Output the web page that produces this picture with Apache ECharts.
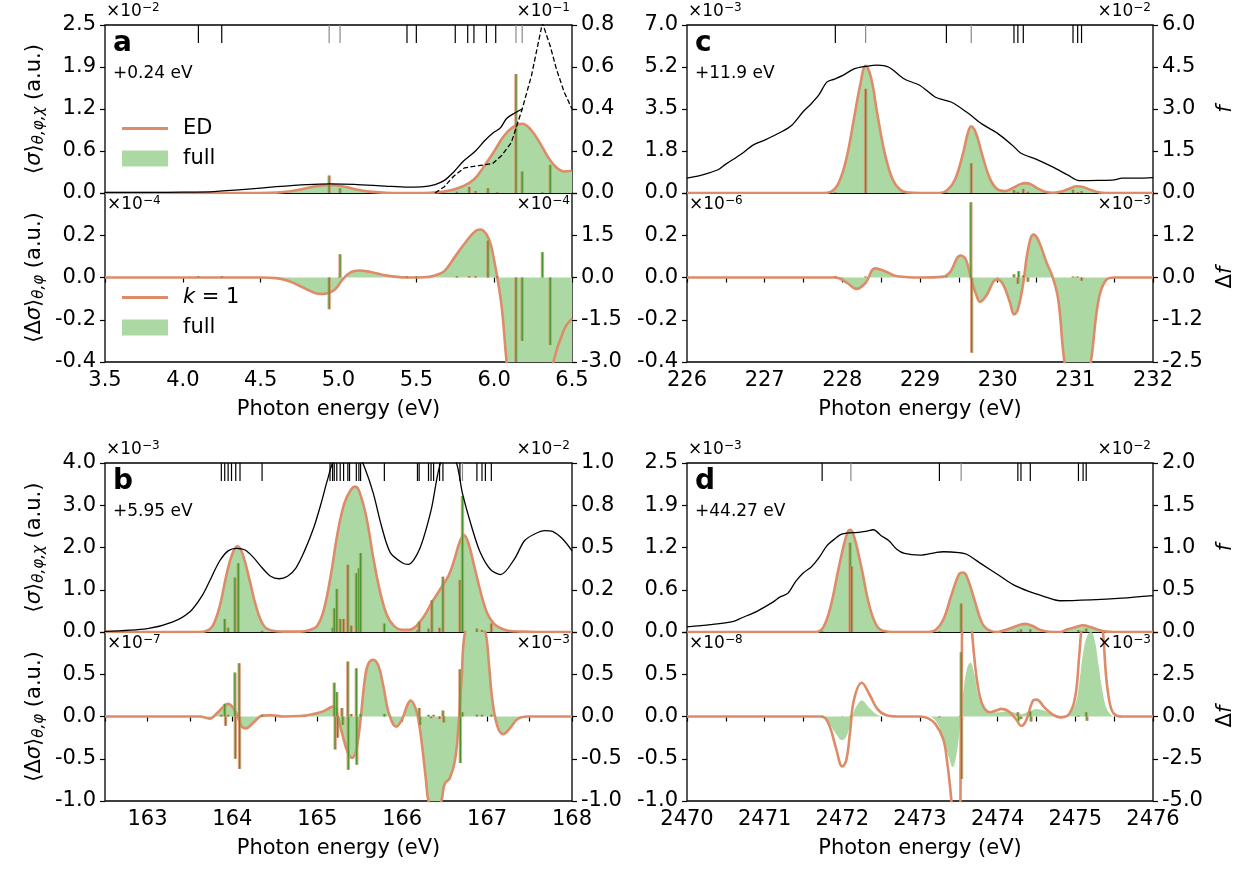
<!DOCTYPE html>
<html>
<head>
<meta charset="utf-8">
<script src="https://cdn.jsdelivr.net/npm/echarts@6/dist/echarts.min.js"></script>
<style>
html, body { margin: 0; padding: 0; background: #fff; }
#chart { width: 1245px; height: 871px; }
</style>
</head>
<body>
<div id="chart"></div>
<script>
// ---------- panel a : 3.5 - 6.5 eV ----------
var aBlack = [[3.5,0.003],[3.8,0.003],[4.0,0.004],[4.2,0.007],[4.4,0.017],[4.6,0.03],[4.8,0.04],[4.95,0.043],[5.1,0.041],[5.3,0.033],[5.45,0.028],[5.55,0.03],[5.62,0.04],[5.68,0.06],[5.74,0.1],[5.8,0.15],[5.88,0.2],[5.94,0.25],[5.99,0.285],[6.04,0.31],[6.08,0.355],[6.13,0.38],[6.18,0.40]];
var aBlackDash = [[5.62,0],[5.68,0.03],[5.74,0.08],[5.81,0.12],[5.9,0.13],[5.99,0.14],[6.05,0.18],[6.11,0.24],[6.18,0.40],[6.24,0.56],[6.31,0.81],[6.36,0.7],[6.4,0.59],[6.45,0.48],[6.5,0.40]];
var aED = [[3.5,0],[4.5,0],[4.6,0.005],[4.7,0.03],[4.8,0.075],[4.88,0.11],[4.95,0.12],[5.02,0.105],[5.1,0.06],[5.2,0.02],[5.3,0.004],[5.4,0],[5.55,0],[5.65,0.015],[5.72,0.04],[5.8,0.1],[5.87,0.2],[5.93,0.38],[6.0,0.62],[6.06,0.84],[6.12,0.98],[6.18,1.03],[6.24,0.93],[6.3,0.72],[6.35,0.52],[6.4,0.38],[6.45,0.32],[6.5,0.33]];
var aSticks = [[4.94,0.26],[5.01,0.07],[5.76,0.02],[5.84,0.09],[5.88,0.03],[5.96,0.07],[6.02,0.01],[6.14,1.77],[6.18,0.32],[6.31,0.01],[6.36,0.42]];
var aLevels = [4.10,4.25,5.44,5.50,5.75,5.83,5.87,5.95,6.01];
var aLevelsGray = [4.94,5.01,6.14,6.18];
var aK1 = [[3.5,0],[4.5,0],[4.6,-0.003],[4.68,-0.017],[4.78,-0.05],[4.85,-0.074],[4.89,-0.078],[4.94,-0.072],[4.98,-0.055],[5.03,-0.006],[5.08,0.025],[5.13,0.033],[5.2,0.027],[5.28,0.013],[5.36,0.004],[5.45,0],[5.55,0.001],[5.62,0.01],[5.68,0.03],[5.75,0.1],[5.83,0.18],[5.88,0.22],[5.91,0.227],[5.95,0.205],[5.98,0.15],[6.0,0.08],[6.02,0.0],[6.05,-0.15],[6.08,-0.4],[6.12,-0.65],[6.2,-0.9],[6.3,-0.7],[6.38,-0.4],[6.45,-0.245],[6.5,-0.195]];
var aFullDiff = [[3.5,0],[4.5,0],[4.6,-0.003],[4.68,-0.017],[4.78,-0.05],[4.85,-0.074],[4.89,-0.078],[4.94,-0.072],[4.98,-0.055],[5.03,-0.006],[5.08,0.025],[5.13,0.033],[5.2,0.027],[5.28,0.013],[5.36,0.004],[5.45,0],[5.55,0.001],[5.62,0.01],[5.68,0.03],[5.75,0.1],[5.83,0.18],[5.88,0.22],[5.91,0.227],[5.95,0.205],[5.98,0.15],[6.0,0.08],[6.02,0.0],[6.05,-0.15],[6.08,-0.45],[6.15,-0.9],[6.3,-1.0],[6.5,-0.8]];
var aSticksDiff = [[4.10,0.006],[4.25,0.006],[4.94,-0.15],[5.01,0.11],[5.44,0.006],[5.50,0.006],[5.76,0.006],[5.84,0.006],[5.88,0.006],[5.96,0.175],[6.02,0.006],[6.14,-0.5],[6.18,-0.3],[6.31,0.12],[6.36,-0.32]];

// ---------- panel b : 162.5 - 168 eV ----------
var bBlack = [[162.5,0.004],[163.0,0.02],[163.3,0.06],[163.5,0.12],[163.65,0.22],[163.75,0.32],[163.85,0.42],[163.95,0.48],[164.05,0.495],[164.15,0.485],[164.25,0.44],[164.35,0.38],[164.45,0.33],[164.55,0.315],[164.65,0.33],[164.75,0.38],[164.85,0.48],[164.96,0.62],[165.05,0.77],[165.12,0.9],[165.2,1.02],[165.35,1.08],[165.48,1.05],[165.56,0.97],[165.66,0.82],[165.76,0.62],[165.86,0.47],[166.0,0.41],[166.07,0.4],[166.2,0.485],[166.34,0.72],[166.44,0.98],[166.54,1.08],[166.64,1.0],[166.71,0.82],[166.82,0.62],[166.92,0.47],[167.04,0.37],[167.16,0.34],[167.32,0.43],[167.44,0.54],[167.56,0.58],[167.68,0.6],[167.77,0.595],[167.89,0.55],[168,0.48]];
var bED = [[162.5,0],[163.6,0],[163.7,0.03],[163.77,0.15],[163.85,0.6],[163.93,1.35],[164.0,1.85],[164.06,2.03],[164.12,1.85],[164.2,1.25],[164.28,0.6],[164.36,0.18],[164.45,0.04],[164.6,0.01],[164.8,0.01],[164.9,0.04],[165.0,0.15],[165.08,0.55],[165.16,1.35],[165.24,2.35],[165.32,3.05],[165.4,3.38],[165.45,3.44],[165.5,3.3],[165.58,2.7],[165.66,1.75],[165.74,0.95],[165.82,0.4],[165.9,0.15],[166.0,0.05],[166.08,0.05],[166.16,0.13],[166.25,0.35],[166.35,0.7],[166.45,1.02],[166.55,1.35],[166.62,1.75],[166.68,2.15],[166.73,2.29],[166.78,2.1],[166.85,1.55],[166.93,0.9],[167.0,0.45],[167.08,0.2],[167.16,0.09],[167.25,0.03],[167.4,0.01],[167.6,0],[168,0]];
var bSticks = [[163.91,0.31],[163.95,0.1],[164.03,1.29],[164.07,1.63],[164.35,0.03],[165.18,0.1],[165.2,0.56],[165.23,1.02],[165.27,0.31],[165.31,0.31],[165.36,1.59],[165.4,0.15],[165.46,1.39],[165.49,1.51],[165.51,1.87],[165.79,0.2],[166.18,0.05],[166.2,0.24],[166.31,0.08],[166.35,0.75],[166.44,0.1],[166.48,1.31],[166.68,1.23],[166.71,3.22],[166.88,0.08],[166.94,0.05],[167.05,0.2]];
var bLevels = [163.87,163.91,163.95,163.99,164.04,164.09,164.35,165.15,165.18,165.20,165.23,165.27,165.31,165.36,165.38,165.46,165.49,165.51,165.79,166.18,166.20,166.31,166.34,166.37,166.44,166.48,166.68,166.88,166.94,166.98,167.05];
var bLevelsGray = [166.71];
var bK1 = [[162.5,0],[163.62,0],[163.73,-0.025],[163.83,0.05],[163.95,0.15],[164.04,0.05],[164.11,-0.12],[164.16,-0.14],[164.25,-0.07],[164.35,0.01],[164.46,0.015],[164.6,0],[164.8,0.005],[165.04,0.05],[165.2,0.12],[165.24,0.01],[165.3,-0.23],[165.36,-0.43],[165.41,-0.49],[165.46,-0.39],[165.51,-0.03],[165.56,0.44],[165.6,0.62],[165.66,0.67],[165.72,0.6],[165.78,0.35],[165.84,0.05],[165.93,-0.12],[166.0,-0.03],[166.06,0.135],[166.1,0.19],[166.16,0.09],[166.2,-0.09],[166.24,-0.39],[166.28,-0.75],[166.31,-1.0],[166.38,-1.15],[166.46,-1.0],[166.5,-0.8],[166.56,-0.73],[166.62,-0.53],[166.66,-0.15],[166.7,0.44],[166.74,1.0],[166.86,1.35],[166.98,1.0],[167.02,0.64],[167.06,0.21],[167.12,-0.11],[167.19,-0.21],[167.26,-0.15],[167.36,-0.03],[167.48,0],[168,0]];
var bSticksDiff = [[163.87,0.02],[163.91,0.15],[163.92,-0.11],[163.95,0.02],[164.03,0.52],[164.035,-0.5],[164.08,0.63],[164.085,-0.62],[164.35,0.02],[165.2,0.4],[165.21,-0.39],[165.23,0.29],[165.24,-0.25],[165.29,0.1],[165.3,-0.1],[165.36,0.65],[165.365,-0.63],[165.4,0.03],[165.46,0.57],[165.465,-0.57],[165.51,0.03],[165.79,0.03],[166.2,0.1],[166.21,-0.1],[166.31,0.02],[166.34,-0.02],[166.37,0.02],[166.44,-0.03],[166.48,0.07],[166.49,-0.07],[166.68,0.56],[166.685,-0.55],[166.71,0.05],[166.88,0.02],[166.94,0.02],[167.05,0.02]];

// ---------- panel c : 226 - 232 eV ----------
var cBlack = [[226.0,0.53],[226.2,0.65],[226.4,0.83],[226.5,1.03],[226.7,1.39],[226.85,1.71],[227.0,1.89],[227.2,2.16],[227.35,2.42],[227.5,2.92],[227.6,3.19],[227.7,3.51],[227.8,3.96],[227.9,4.07],[228.0,4.19],[228.15,4.43],[228.3,4.52],[228.45,4.57],[228.6,4.49],[228.8,4.07],[229.0,3.84],[229.2,3.42],[229.4,3.25],[229.6,2.89],[229.8,2.46],[230.0,2.13],[230.2,1.68],[230.3,1.42],[230.5,1.2],[230.7,0.94],[230.9,0.65],[231.05,0.44],[231.3,0.45],[231.5,0.47],[231.6,0.53],[231.8,0.53],[232.0,0.55]];
var cED = [[226,0],[227.75,0],[227.85,0.05],[227.95,0.4],[228.05,1.4],[228.15,3.1],[228.23,4.5],[228.3,5.3],[228.37,4.8],[228.45,3.3],[228.55,1.6],[228.65,0.55],[228.75,0.12],[228.85,0.02],[229.0,0],[229.25,0],[229.35,0.12],[229.45,0.55],[229.55,1.6],[229.62,2.55],[229.66,2.78],[229.72,2.5],[229.8,1.6],[229.9,0.6],[230.0,0.15],[230.1,0.08],[230.2,0.22],[230.3,0.38],[230.36,0.41],[230.43,0.36],[230.52,0.18],[230.62,0.04],[230.72,0.01],[230.82,0.06],[230.92,0.18],[231.02,0.28],[231.1,0.25],[231.2,0.13],[231.3,0.03],[231.4,0],[232,0]];
var cSticks = [[227.91,0.02],[228.3,4.34],[229.34,0.02],[229.66,1.24],[230.21,0.12],[230.26,0.05],[230.33,0.17],[230.39,0.05],[230.97,0.14],[231.03,0.03],[231.08,0.08]];
var cLevels = [227.91,229.34,230.21,230.26,230.33,230.97,231.03,231.08];
var cLevelsGray = [228.3,229.66];
var cK1 = [[226,0],[227.91,0],[228.06,-0.025],[228.18,-0.054],[228.3,-0.025],[228.42,0.043],[228.55,0.03],[228.71,0.006],[229.02,0],[229.28,0.003],[229.38,0.022],[229.52,0.104],[229.59,0.085],[229.66,-0.01],[229.73,-0.088],[229.77,-0.115],[229.85,-0.088],[229.95,-0.017],[230.0,-0.01],[230.07,-0.033],[230.16,-0.12],[230.21,-0.175],[230.26,-0.151],[230.33,-0.025],[230.39,0.13],[230.46,0.203],[230.52,0.18],[230.63,0.07],[230.7,0.01],[230.78,-0.104],[230.86,-0.4],[231.03,-0.75],[231.2,-0.4],[231.3,-0.104],[231.4,-0.01],[231.5,0],[232,0]];
var cSticksDiff = [[227.91,0.005],[228.3,0.005],[229.34,0.005],[229.655,0.356],[229.665,-0.356],[230.21,0.015],[230.26,-0.03],[230.27,0.03],[230.33,0.01],[230.39,-0.02],[230.97,0.005],[231.03,0.005],[231.08,-0.015]];

// ---------- panel d : 2470 - 2476 eV ----------
var dBlack = [[2470.0,0.06],[2470.3,0.087],[2470.6,0.127],[2470.7,0.166],[2470.9,0.245],[2471.1,0.35],[2471.2,0.415],[2471.3,0.46],[2471.4,0.6],[2471.5,0.7],[2471.6,0.77],[2471.7,0.88],[2471.8,1.02],[2471.9,1.1],[2472.0,1.16],[2472.2,1.18],[2472.3,1.19],[2472.4,1.21],[2472.5,1.14],[2472.6,1.08],[2472.7,0.98],[2472.8,0.93],[2473.0,0.91],[2473.2,0.94],[2473.3,0.95],[2473.5,0.94],[2473.6,0.92],[2473.8,0.8],[2474.0,0.68],[2474.2,0.56],[2474.4,0.48],[2474.6,0.42],[2474.8,0.37],[2475.2,0.38],[2475.6,0.4],[2476.0,0.43]];
var dED = [[2470,0],[2471.65,0],[2471.75,0.06],[2471.85,0.38],[2471.95,0.93],[2472.05,1.42],[2472.1,1.51],[2472.15,1.42],[2472.25,0.93],[2472.35,0.38],[2472.45,0.08],[2472.55,0.01],[2472.65,0],[2473.1,0],[2473.2,0.03],[2473.3,0.18],[2473.4,0.53],[2473.5,0.85],[2473.55,0.88],[2473.6,0.83],[2473.7,0.48],[2473.8,0.13],[2473.9,0.02],[2474.0,0],[2474.1,0.03],[2474.2,0.07],[2474.3,0.11],[2474.35,0.12],[2474.45,0.09],[2474.55,0.03],[2474.7,0],[2474.8,0],[2474.9,0.04],[2475.0,0.07],[2475.1,0.1],[2475.2,0.07],[2475.3,0.03],[2475.4,0.005],[2475.5,0],[2476,0]];
var dSticks = [[2471.74,0.01],[2472.1,1.32],[2472.12,0.97],[2473.25,0.01],[2473.53,0.42],[2474.26,0.02],[2474.3,0.04],[2474.42,0.04],[2475.04,0.03],[2475.1,0.01],[2475.14,0.05]];
var dLevels = [2471.74,2473.25,2474.26,2474.30,2474.42,2475.04,2475.10,2475.14];
var dLevelsGray = [2472.11,2473.53];
var dK1 = [[2470,0],[2471.7,0],[2471.78,-0.02],[2471.85,-0.15],[2471.92,-0.38],[2472.0,-0.59],[2472.05,-0.52],[2472.1,-0.18],[2472.15,0.2],[2472.25,0.4],[2472.35,0.26],[2472.45,0.09],[2472.55,0.02],[2472.7,0],[2473.0,0],[2473.1,-0.02],[2473.2,-0.09],[2473.3,-0.27],[2473.35,-0.54],[2473.4,-0.95],[2473.45,-1.5],[2473.5,-1.5],[2473.53,0],[2473.57,1.5],[2473.63,1.5],[2473.67,1.0],[2473.72,0.52],[2473.77,0.24],[2473.82,0.11],[2473.9,0.05],[2473.98,0.07],[2474.05,0.09],[2474.15,0.055],[2474.25,-0.05],[2474.3,-0.11],[2474.36,-0.06],[2474.45,0.18],[2474.5,0.2],[2474.6,0.11],[2474.7,0.03],[2474.8,-0.01],[2474.92,0.03],[2475.0,0.24],[2475.05,0.72],[2475.1,1.2],[2475.2,1.6],[2475.3,1.3],[2475.35,1.05],[2475.4,0.44],[2475.45,0.13],[2475.5,0.03],[2475.6,0],[2476,0]];
var dFullDiff = [[2470,0],[2471.7,0],[2471.8,-0.04],[2471.9,-0.18],[2472.0,-0.28],[2472.05,-0.24],[2472.1,-0.1],[2472.15,0.06],[2472.2,0.15],[2472.25,0.19],[2472.35,0.1],[2472.45,0.02],[2472.55,0],[2473.1,0],[2473.2,-0.05],[2473.3,-0.25],[2473.37,-0.48],[2473.42,-0.6],[2473.47,-0.45],[2473.51,-0.15],[2473.54,0.15],[2473.6,0.55],[2473.65,0.64],[2473.7,0.5],[2473.75,0.25],[2473.82,0.1],[2473.9,0.05],[2474.0,0.05],[2474.1,0.06],[2474.2,0.05],[2474.3,0.03],[2474.4,0.06],[2474.5,0.09],[2474.6,0.07],[2474.7,0.03],[2474.8,0.01],[2474.9,0.02],[2475.0,0.15],[2475.05,0.4],[2475.1,0.75],[2475.15,0.95],[2475.2,1.0],[2475.25,0.9],[2475.3,0.6],[2475.35,0.3],[2475.4,0.1],[2475.45,0.03],[2475.5,0],[2476,0]];
var dSticksDiff = [[2471.74,0.01],[2472.11,0.01],[2473.25,-0.01],[2473.53,0.76],[2473.535,-0.74],[2474.26,0.05],[2474.27,-0.05],[2474.3,-0.03],[2474.42,0.06],[2474.43,-0.06],[2475.04,0.01],[2475.14,0.05],[2475.15,-0.05]];

// ---------- tick labels ----------
var xLabA = ['3.5','4.0','4.5','5.0','5.5','6.0','6.5'];
var xLabB = ['','163','','164','','165','','166','','167','','168'];
var xLabC = ['226','','227','','228','','229','','230','','231','','232'];
var xLabD = ['2470','','2471','','2472','','2473','','2474','','2475','','2476'];
var yLabUpA = ['0.0','0.6','1.2','1.9','2.5'];
var yLabUpAr = ['0.0','0.2','0.4','0.6','0.8'];
var yLabLowA = ['-0.4','-0.2','0.0','0.2'];
var yLabLowAr = ['-3.0','-1.5','0.0','1.5'];
var yLabUpB = ['0.0','1.0','2.0','3.0','4.0'];
var yLabUpBr = ['0.0','0.2','0.5','0.8','1.0'];
var yLabLowB = ['-1.0','-0.5','0.0','0.5'];
var yLabUpC = ['0.0','1.8','3.5','5.2','7.0'];
var yLabUpCr = ['0.0','1.5','3.0','4.5','6.0'];
var yLabLowC = ['-0.4','-0.2','0.0','0.2'];
var yLabLowCr = ['-2.5','-1.2','0.0','1.2'];
var yLabUpDr = ['0.0','0.5','1.0','1.5','2.0'];
var yLabLowDr = ['-5.0','-2.5','0.0','2.5'];

var FONT = 'DejaVu Sans';
var FS = 21;
var ORANGE = '#dd8b69';
var FILL = '#acd9a3';
var STICK = '#3e9a2a';
var GRAY = '#8a8a8a';

var grids = [], xAxes = [], yAxes = [], series = [];

function labeler(min, step, labels) {
    return function (v) {
        var i = Math.round((v - min) / step);
        return labels[i] !== undefined ? labels[i] : '';
    };
}

var nameRich = {
    n: {fontSize: FS, fontFamily: FONT, color: '#000'},
    i: {fontSize: FS, fontFamily: FONT, fontStyle: 'italic', color: '#000'},
    s: {fontSize: 15, fontFamily: FONT, fontStyle: 'italic', color: '#000', verticalAlign: 'bottom', padding: [10, 0, 0, 0]}
};

function makeY(grid, pos, min, max, step, labels, name, gap) {
    var o = {
        gridIndex: grid, type: 'value', position: pos, min: min, max: max, interval: step,
        axisLine: {show: false},
        axisTick: {show: true, length: 5, lineStyle: {color: '#000', width: 1.2}},
        axisLabel: {formatter: labeler(min, step, labels), color: '#000', fontSize: FS, fontFamily: FONT, margin: 9},
        splitLine: {show: false}
    };
    if (name) {
        o.name = name;
        o.nameLocation = 'middle';
        o.nameGap = gap;
        o.nameTextStyle = {rich: nameRich, fontSize: FS, fontFamily: FONT, color: '#000'};
    }
    return o;
}

function stickItem(params, api) {
    var p0 = api.coord([api.value(0), 0]);
    var p1 = api.coord([api.value(0), api.value(1)]);
    var shape = {x1: p0[0], y1: p0[1], x2: p1[0], y2: p1[1]};
    return {
        type: 'group',
        children: [
            {type: 'line', shape: shape, style: {stroke: ORANGE, lineWidth: 3.4, opacity: 0.8}},
            {type: 'line', shape: shape, style: {stroke: STICK, lineWidth: 1.3}}
        ]
    };
}

function levelItem(color) {
    return function (params, api) {
        var x = api.coord([api.value(0), 0])[0];
        var top = params.coordSys.y;
        return {type: 'line', shape: {x1: x, y1: top, x2: x, y2: top + 18}, style: {stroke: color, lineWidth: 1.2}};
    };
}

function addPanel(p) {
    var gu = grids.length, gl = gu + 1;
    grids.push({left: p.left, top: p.top, width: p.width, height: p.hUp, show: true, borderColor: '#000', borderWidth: 1.3, backgroundColor: 'transparent'});
    grids.push({left: p.left, top: p.top + p.hUp, width: p.width, height: p.hLow, show: true, borderColor: '#000', borderWidth: 1.3, backgroundColor: 'transparent'});
    var xu = xAxes.length;
    xAxes.push({gridIndex: gu, type: 'value', min: p.x[0], max: p.x[1], axisLine: {show: false}, axisTick: {show: false}, axisLabel: {show: false}, splitLine: {show: false}});
    xAxes.push({gridIndex: gl, type: 'value', min: p.x[0], max: p.x[1], interval: p.x[2],
        axisLine: {show: false},
        axisTick: {show: true, length: 5, lineStyle: {color: '#000', width: 1.2}},
        axisLabel: {formatter: labeler(p.x[0], p.x[2], p.x[3]), color: '#000', fontSize: FS, fontFamily: FONT, margin: 8},
        splitLine: {show: false},
        name: 'Photon energy (eV)', nameLocation: 'middle', nameGap: 37,
        nameTextStyle: {fontSize: FS, fontFamily: FONT, color: '#000'}
    });
    var yu = yAxes.length;
    yAxes.push(makeY(gu, 'left', p.yu[0], p.yu[1], p.yu[2], p.yu[3], p.nameUL, 58));
    yAxes.push(makeY(gu, 'right', p.yur[0], p.yur[1], p.yur[2], p.yur[3], p.nameUR, 62));
    yAxes.push(makeY(gl, 'left', p.yl[0], p.yl[1], p.yl[2], p.yl[3], p.nameLL, 58));
    yAxes.push(makeY(gl, 'right', p.ylr[0], p.ylr[1], p.ylr[2], p.ylr[3], p.nameLR, 62));

    // upper plot
    series.push({type: 'line', name: 'full', xAxisIndex: xu, yAxisIndex: yu, data: p.ed, symbol: 'none', smooth: 0.4,
        lineStyle: {width: 0}, itemStyle: {color: FILL}, areaStyle: {color: FILL, opacity: 1}, z: 1});
    series.push({type: 'line', name: 'ED', xAxisIndex: xu, yAxisIndex: yu, data: p.ed, symbol: 'none', smooth: 0.4,
        lineStyle: {color: ORANGE, width: 2.6}, itemStyle: {color: ORANGE}, z: 3});
    series.push({type: 'custom', xAxisIndex: xu, yAxisIndex: yu, data: p.sticks, renderItem: stickItem, clip: true, z: 5});
    series.push({type: 'line', xAxisIndex: xu, yAxisIndex: yu + 1, data: p.black, symbol: 'none', smooth: 0.3,
        lineStyle: {color: '#000', width: 1.3}, z: 6});
    if (p.dash) {
        series.push({type: 'line', xAxisIndex: xu, yAxisIndex: yu + 1, data: p.dash, symbol: 'none',
            lineStyle: {color: '#000', width: 1.3, type: [5, 2.5]}, z: 6});
    }
    series.push({type: 'custom', xAxisIndex: xu, yAxisIndex: yu, data: p.levels.map(function (e) { return [e, 0]; }),
        renderItem: levelItem('#000'), z: 7});
    series.push({type: 'custom', xAxisIndex: xu, yAxisIndex: yu, data: p.levelsGray.map(function (e) { return [e, 0]; }),
        renderItem: levelItem(GRAY), z: 7});

    // lower plot
    series.push({type: 'line', name: 'full', xAxisIndex: xu + 1, yAxisIndex: yu + 2, data: p.fullDiff, symbol: 'none', smooth: 0.4,
        lineStyle: {width: 0}, itemStyle: {color: FILL}, areaStyle: {color: FILL, opacity: 1}, z: 1});
    series.push({type: 'line', name: 'k = 1', xAxisIndex: xu + 1, yAxisIndex: yu + 2, data: p.k1, symbol: 'none', smooth: 0.4,
        lineStyle: {color: ORANGE, width: 2.6}, itemStyle: {color: ORANGE}, z: 3});
    series.push({type: 'custom', xAxisIndex: xu + 1, yAxisIndex: yu + 2, data: p.sticksDiff, renderItem: stickItem, clip: true, z: 5});
}

var sigName = '{n|⟨}{i|σ}{n|⟩}{s|θ,φ,χ}{n| (a.u.)}';
var dsigName = '{n|⟨Δ}{i|σ}{n|⟩}{s|θ,φ}{n| (a.u.)}';

addPanel({left: 105, top: 25, width: 467, hUp: 168, hLow: 169,
    x: [3.5, 6.5, 0.5, xLabA],
    yu: [0, 2.5, 0.625, yLabUpA], yur: [0, 0.8, 0.2, yLabUpAr],
    yl: [-0.4, 0.4, 0.2, yLabLowA], ylr: [-3, 3, 1.5, yLabLowAr],
    nameUL: sigName, nameLL: dsigName,
    ed: aED, sticks: aSticks, black: aBlack, dash: aBlackDash, levels: aLevels, levelsGray: aLevelsGray,
    k1: aK1, fullDiff: aFullDiff, sticksDiff: aSticksDiff});
addPanel({left: 687, top: 25, width: 466, hUp: 168, hLow: 169,
    x: [226, 232, 0.5, xLabC],
    yu: [0, 7, 1.75, yLabUpC], yur: [0, 6, 1.5, yLabUpCr],
    yl: [-0.4, 0.4, 0.2, yLabLowC], ylr: [-2.5, 2.5, 1.25, yLabLowCr],
    nameUR: '{i|f}', nameLR: '{n|Δ}{i|f}',
    ed: cED, sticks: cSticks, black: cBlack, levels: cLevels, levelsGray: cLevelsGray,
    k1: cK1, fullDiff: cK1, sticksDiff: cSticksDiff});
addPanel({left: 105, top: 463, width: 467, hUp: 169, hLow: 169,
    x: [162.5, 168, 0.5, xLabB],
    yu: [0, 4, 1, yLabUpB], yur: [0, 1, 0.25, yLabUpBr],
    yl: [-1, 1, 0.5, yLabLowB], ylr: [-1, 1, 0.5, yLabLowB],
    nameUL: sigName, nameLL: dsigName,
    ed: bED, sticks: bSticks, black: bBlack, levels: bLevels, levelsGray: bLevelsGray,
    k1: bK1, fullDiff: bK1, sticksDiff: bSticksDiff});
addPanel({left: 687, top: 463, width: 466, hUp: 169, hLow: 169,
    x: [2470, 2476, 0.5, xLabD],
    yu: [0, 2.5, 0.625, yLabUpA], yur: [0, 2, 0.5, yLabUpDr],
    yl: [-1, 1, 0.5, yLabLowB], ylr: [-5, 5, 2.5, yLabLowDr],
    nameUR: '{i|f}', nameLR: '{n|Δ}{i|f}',
    ed: dED, sticks: dSticks, black: dBlack, levels: dLevels, levelsGray: dLevelsGray,
    k1: dK1, fullDiff: dFullDiff, sticksDiff: dSticksDiff});

var offRich = {
    b: {fontSize: 17, fontFamily: FONT, color: '#000', lineHeight: 20},
    s: {fontSize: 12, fontFamily: FONT, color: '#000', verticalAlign: 'top', lineHeight: 12}
};

function txt(pos, text, size, weight) {
    var o = {type: 'text', z: 100, style: {text: text, fontSize: size, fontFamily: FONT, fill: '#000', fontWeight: weight || 'normal'}};
    for (var k in pos) o[k] = pos[k];
    return o;
}

function offset(pos, exp) {
    var o = {type: 'text', z: 100, style: {text: '{b|×10}{s|−' + exp + '}', rich: offRich, fill: '#000'}};
    for (var k in pos) o[k] = pos[k];
    return o;
}

var graphics = [
    offset({left: 106, top: 2}, '2'), offset({right: 675, top: 2}, '1'),
    offset({left: 107, top: 195}, '4'), offset({right: 675, top: 195}, '4'),
    offset({left: 688, top: 2}, '3'), offset({right: 94, top: 2}, '2'),
    offset({left: 689, top: 195}, '6'), offset({right: 94, top: 195}, '3'),
    offset({left: 106, top: 440}, '3'), offset({right: 675, top: 440}, '2'),
    offset({left: 107, top: 634}, '7'), offset({right: 675, top: 634}, '3'),
    offset({left: 688, top: 440}, '3'), offset({right: 94, top: 440}, '2'),
    offset({left: 689, top: 634}, '8'), offset({right: 94, top: 634}, '3'),
    txt({left: 113, top: 30}, 'a', 28, 'bold'), txt({left: 113, top: 65}, '+0.24 eV', 17),
    txt({left: 695, top: 30}, 'c', 28, 'bold'), txt({left: 695, top: 65}, '+11.9 eV', 17),
    txt({left: 113, top: 468}, 'b', 28, 'bold'), txt({left: 113, top: 503}, '+5.95 eV', 17),
    txt({left: 695, top: 468}, 'd', 28, 'bold'), txt({left: 695, top: 503}, '+44.27 eV', 17)
];

var legendText = {fontSize: FS, fontFamily: FONT, color: '#000', padding: [0, 0, 0, 10]};
var legends = [
    {left: 122, top: 118, padding: 0, icon: 'rect', itemWidth: 46, itemHeight: 3, selectedMode: false, data: ['ED'], textStyle: legendText},
    {left: 122, top: 148, padding: 0, icon: 'rect', itemWidth: 46, itemHeight: 16, selectedMode: false, data: ['full'], textStyle: legendText},
    {left: 122, top: 287, padding: 0, icon: 'rect', itemWidth: 46, itemHeight: 3, selectedMode: false, data: ['k = 1'],
        formatter: function () { return '{i|k} = 1'; },
        textStyle: {fontSize: FS, fontFamily: FONT, color: '#000', padding: [0, 0, 0, 10],
            rich: {i: {fontSize: FS, fontFamily: FONT, fontStyle: 'italic', color: '#000'}}}},
    {left: 122, top: 317, padding: 0, icon: 'rect', itemWidth: 46, itemHeight: 16, selectedMode: false, data: ['full'], textStyle: legendText}
];

var chart = echarts.init(document.getElementById('chart'));
chart.setOption({
    animation: false,
    backgroundColor: '#fff',
    grid: grids,
    xAxis: xAxes,
    yAxis: yAxes,
    legend: legends,
    graphic: graphics,
    series: series
});
</script>
</body>
</html>
